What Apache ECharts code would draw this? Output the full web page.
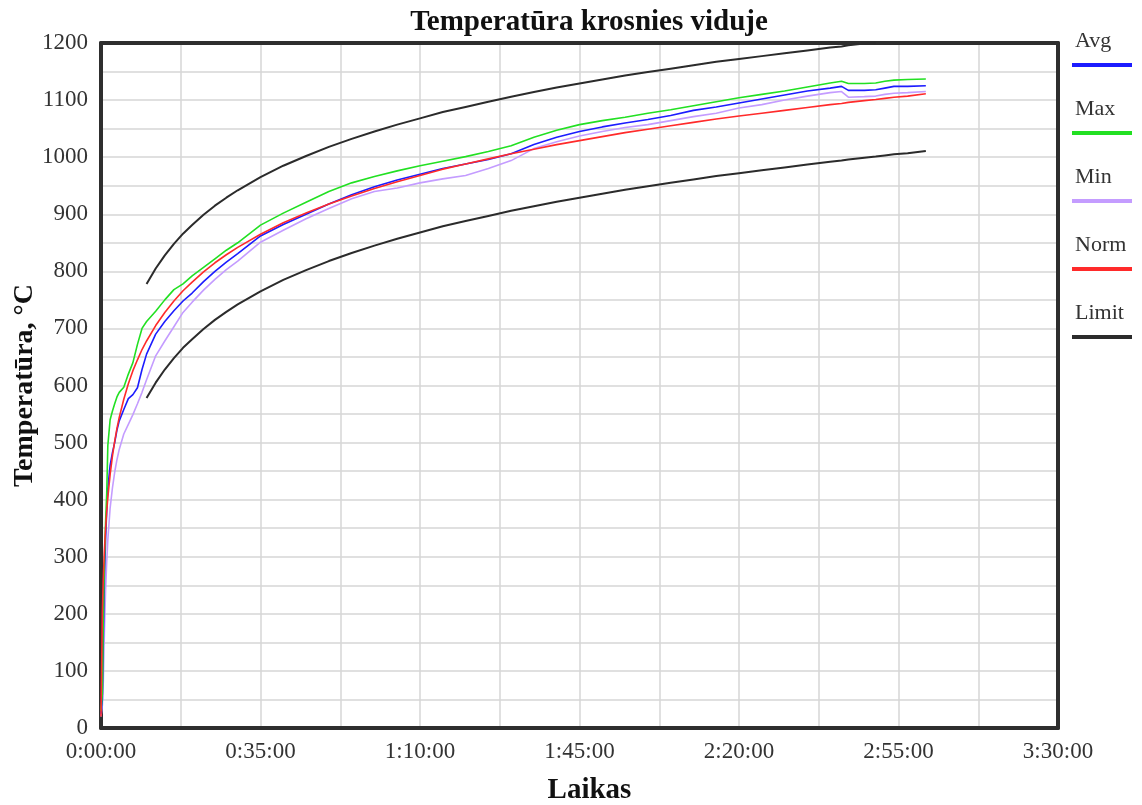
<!DOCTYPE html>
<html>
<head>
<meta charset="utf-8">
<script src="https://cdn.jsdelivr.net/npm/echarts@6/dist/echarts.min.js"></script>
<style>html,body{margin:0;padding:0;background:#fff}#c{width:1142px;height:805px}</style>
</head>
<body>
<div id="c"></div>
<script>
// time in minutes
var timeMin = [0, 0.3, 0.5, 0.75, 1, 1.25, 1.5, 2, 2.5, 3, 3.5, 4, 5, 6, 7, 8, 9, 10, 12, 14, 16, 18, 20, 22.5, 25, 27.5, 30, 35, 40, 45, 50, 55, 60, 65, 70, 75, 80, 85, 90, 95, 100, 105, 110, 115, 120, 125, 130, 135, 140, 145, 150, 155, 160, 162.5, 164, 167.5, 170, 172, 174, 177, 181];

var avgVals = [25, 50, 150, 260, 330, 380, 420, 460, 482, 500, 522, 538, 558, 577, 584, 596, 628, 655, 690, 712, 731, 748, 762, 782, 800, 816, 831, 862, 882, 900, 918, 934, 948, 960, 970, 980, 988, 996, 1006, 1022, 1035, 1045, 1053, 1060, 1066, 1073, 1082, 1088, 1095, 1102, 1109, 1116, 1121, 1124, 1117, 1117, 1118, 1121, 1124, 1124, 1125];

var maxVals = [30, 60, 190, 290, 360, 410, 495, 540, 555, 568, 580, 588, 597, 620, 640, 672, 700, 712, 730, 750, 768, 778, 792, 807, 822, 837, 850, 881, 902, 921, 940, 955, 966, 976, 985, 993, 1001, 1010, 1020, 1035, 1047, 1057, 1064, 1070, 1077, 1083, 1090, 1097, 1104, 1110, 1116, 1123, 1130, 1133, 1129, 1129, 1130, 1133, 1135, 1136, 1137];

var minVals = [20, 40, 80, 170, 240, 290, 330, 385, 420, 448, 470, 488, 515, 532, 549, 568, 588, 610, 652, 678, 703, 728, 746, 767, 786, 803, 818, 851, 872, 892, 910, 927, 940, 946, 955, 962, 968, 980, 994, 1015, 1027, 1037, 1045, 1052, 1057, 1064, 1071, 1077, 1086, 1092, 1100, 1107, 1113, 1115, 1105, 1106, 1107, 1110, 1112, 1113, 1115];

var normVals = [20, 203, 261, 312, 349, 379, 404, 444, 476, 502, 525, 544, 576, 603, 626, 645, 663, 678, 705, 728, 748, 766, 781, 799, 815, 829, 842, 865, 885, 902, 918, 932, 945, 957, 968, 979, 988, 997, 1006, 1014, 1022, 1029, 1036, 1043, 1049, 1055, 1061, 1067, 1072, 1077, 1082, 1087, 1092, 1094, 1096, 1099, 1101, 1103, 1105, 1107, 1111];

var limitUpperVals = [null, null, null, null, null, null, null, null, null, null, null, null, null, null, null, null, null,
  778, 805, 828, 848, 866, 881, 899, 915, 929, 942, 965, 985, 1002, 1018, 1032, 1045, 1057, 1068, 1079, 1088, 1097, 1106, 1114, 1122, 1129, 1136, 1143, 1149, 1155, 1161, 1167, 1172, 1177, 1182, 1187, 1192, 1194, 1196, 1199, 1200,
  null, null, null, null];

var limitLowerVals = [null, null, null, null, null, null, null, null, null, null, null, null, null, null, null, null, null,
  578, 605, 628, 648, 666, 681, 699, 715, 729, 742, 765, 785, 802, 818, 832, 845, 857, 868, 879, 888, 897, 906, 914, 922, 929, 936, 943, 949, 955, 961, 967, 972, 977, 982, 987, 992, 994, 996, 999, 1001, 1003, 1005, 1007, 1011];

var legendNames = ['Avg', 'Max', 'Min', 'Norm', 'Limit'];
var titleText = 'Temperatūra krosnies viduje';
var yName = 'Temperatūra, °C';
var xName = 'Laikas';

function pairs(vals) {
  return timeMin.map(function (t, i) { return [t, vals[i]]; });
}
function fmtTime(m) {
  var h = Math.floor(m / 60);
  var mm = Math.round(m - h * 60);
  return h + ':' + (mm < 10 ? '0' : '') + mm + ':00';
}

var serif = '"Liberation Serif", "DejaVu Serif", serif';
var gridColor = '#d6d6d6';
var frameColor = '#2e2e2e';

function line(name, vals, color, w) {
  return {
    name: name, type: 'line', data: pairs(vals), showSymbol: false, symbol: 'none',
    connectNulls: false, animation: false, z: 3,
    lineStyle: { color: color, width: w }, itemStyle: { color: color }
  };
}

var frameAxisLine = { show: true, onZero: false, lineStyle: { color: frameColor, width: 4 } };

var chart = echarts.init(document.getElementById('c'));
chart.setOption({
  backgroundColor: '#ffffff',
  animation: false,
  title: {
    text: titleText, left: 584, top: 3, textAlign: 'center',
    textStyle: { fontFamily: serif, fontWeight: 'bold', fontSize: 29, color: '#111' }
  },
  legend: [{
    data: legendNames, orient: 'vertical', left: 1067, top: 58,
    icon: 'rect', itemWidth: 60, itemHeight: 4, itemGap: 64,
    formatter: function () { return ''; },
    textStyle: { fontSize: 1, lineHeight: 4, padding: 0 },
    selectedMode: false
  }, {
    data: legendNames, orient: 'vertical', left: 1064, top: 24,
    icon: 'rect', itemWidth: 1, itemHeight: 1, itemGap: 44,
    itemStyle: { opacity: 0 },
    textStyle: { fontFamily: serif, fontSize: 22, lineHeight: 24, color: '#333' },
    selectedMode: false
  }],
  grid: {
    left: 101, right: 84, top: 43, bottom: 77, show: false,
    outerBoundsMode: 'none', containLabel: false
  },
  xAxis: [{
    type: 'value', min: 0, max: 210, interval: 35, position: 'bottom',
    name: xName, nameLocation: 'middle', nameGap: 48, nameMoveOverlap: false,
    nameTextStyle: { fontFamily: serif, fontWeight: 'bold', fontSize: 29, color: '#111', padding: [0, 0, 0, 20] },
    axisLine: frameAxisLine, axisTick: { show: false },
    axisLabel: { fontFamily: serif, fontSize: 23, color: '#333', margin: 12, formatter: fmtTime },
    splitLine: { show: true, lineStyle: { color: gridColor, width: 1.5 } },
    minorTick: { show: false, splitNumber: 2 },
    minorSplitLine: { show: true, lineStyle: { color: gridColor, width: 1.5 } }
  }, {
    type: 'value', min: 0, max: 210, interval: 35, position: 'top',
    axisLine: frameAxisLine, axisTick: { show: false }, axisLabel: { show: false },
    splitLine: { show: false }
  }],
  yAxis: [{
    type: 'value', min: 0, max: 1200, interval: 100, position: 'left',
    name: yName, nameLocation: 'middle', nameGap: 62, nameMoveOverlap: false,
    nameTextStyle: { fontFamily: serif, fontWeight: 'bold', fontSize: 28, color: '#111' },
    axisLine: frameAxisLine, axisTick: { show: false },
    axisLabel: { fontFamily: serif, fontSize: 23, color: '#333', margin: 13, formatter: function (v) { return String(v); } },
    splitLine: { show: true, lineStyle: { color: gridColor, width: 1.5 } },
    minorTick: { show: false, splitNumber: 2 },
    minorSplitLine: { show: true, lineStyle: { color: gridColor, width: 1.5 } }
  }, {
    type: 'value', min: 0, max: 1200, interval: 100, position: 'right',
    axisLine: frameAxisLine, axisTick: { show: false }, axisLabel: { show: false },
    splitLine: { show: false }
  }],
  series: [
    line('Limit', limitUpperVals, '#2b2b2b', 2),
    line('Limit', limitLowerVals, '#2b2b2b', 2),
    line('Min', minVals, '#c49cff', 1.6),
    line('Avg', avgVals, '#1c1cff', 1.6),
    line('Max', maxVals, '#22e022', 1.6),
    line('Norm', normVals, '#ff2a2a', 1.6)
  ]
});
</script>
</body>
</html>
